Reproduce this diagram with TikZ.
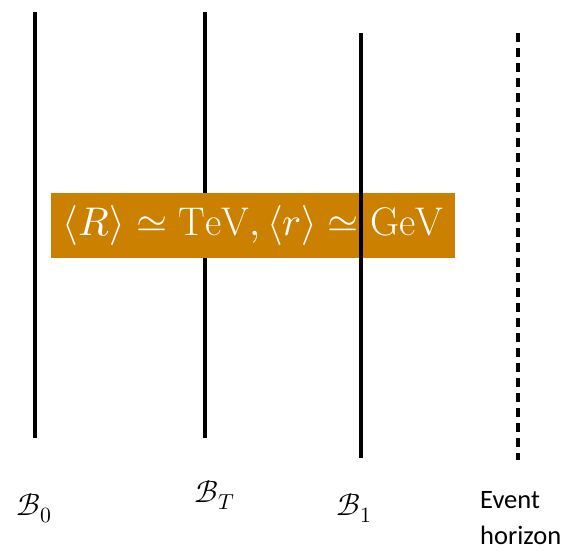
\documentclass[tikz,border=0pt]{standalone}
\usepackage{fontspec}
\usepackage{unicode-math}
\setmathfont{Latin Modern Math}
\newfontfamily\labelfont{Carlito}
\usetikzlibrary{positioning}
\definecolor{vevorange}{RGB}{204,128,0}

\begin{document}
\begin{tikzpicture}[x=1pt, y=-1pt,
  brane/.style={line width=4.3pt, black},
  horizonline/.style={line width=4pt, black, dash pattern=on 9pt off 6pt},
  vevbox/.style={fill=vevorange, text=white, minimum width=404pt, minimum height=65pt,
                 inner sep=0pt, font=\fontsize{40}{46}\selectfont},
  branelabel/.style={font=\fontsize{31}{36}\selectfont, inner sep=0pt, anchor=base west},
]
\useasboundingbox (0,0) rectangle (574,557);

%% ============ BRANES BEHIND THE BOX ============
\coordinate (b0top) at (35,12);
\coordinate (b0bot) at (35,438);
\coordinate (bTtop) at (205,12);
\coordinate (bTbot) at (205,438);
\draw[brane] (b0top) -- (b0bot);
\draw[brane] (bTtop) -- (bTbot);

%% ============ VEV BOX ============
\node[vevbox] (vev) at (253,225.5) {$\langle R\rangle \simeq \mathrm{TeV}, \langle r\rangle \simeq \mathrm{GeV}$};

%% ============ BRANE B1 AND HORIZON ============
\coordinate (b1top) at (361,33);
\coordinate (b1bot) at (361,458);
\coordinate (ehtop) at (518,33);
\coordinate (ehbot) at (518,460);
\draw[brane] (b1top) -- (b1bot);
\draw[horizonline] (ehtop) -- (ehbot);

%% ============ LABELS ============
\node[branelabel] (lab0) at (16,515) {$\mathcal{B}_0$};
\node[branelabel] (labT) at (194,502) {$\mathcal{B}_T$};
\node[branelabel] (lab1) at (336,515) {$\mathcal{B}_1$};
\node[anchor=base west, align=left, inner sep=0pt, font=\labelfont\fontsize{26.5}{36}\selectfont]
  (labeh) at (480,544) {Event\\horizon};

\end{tikzpicture}
\end{document}
